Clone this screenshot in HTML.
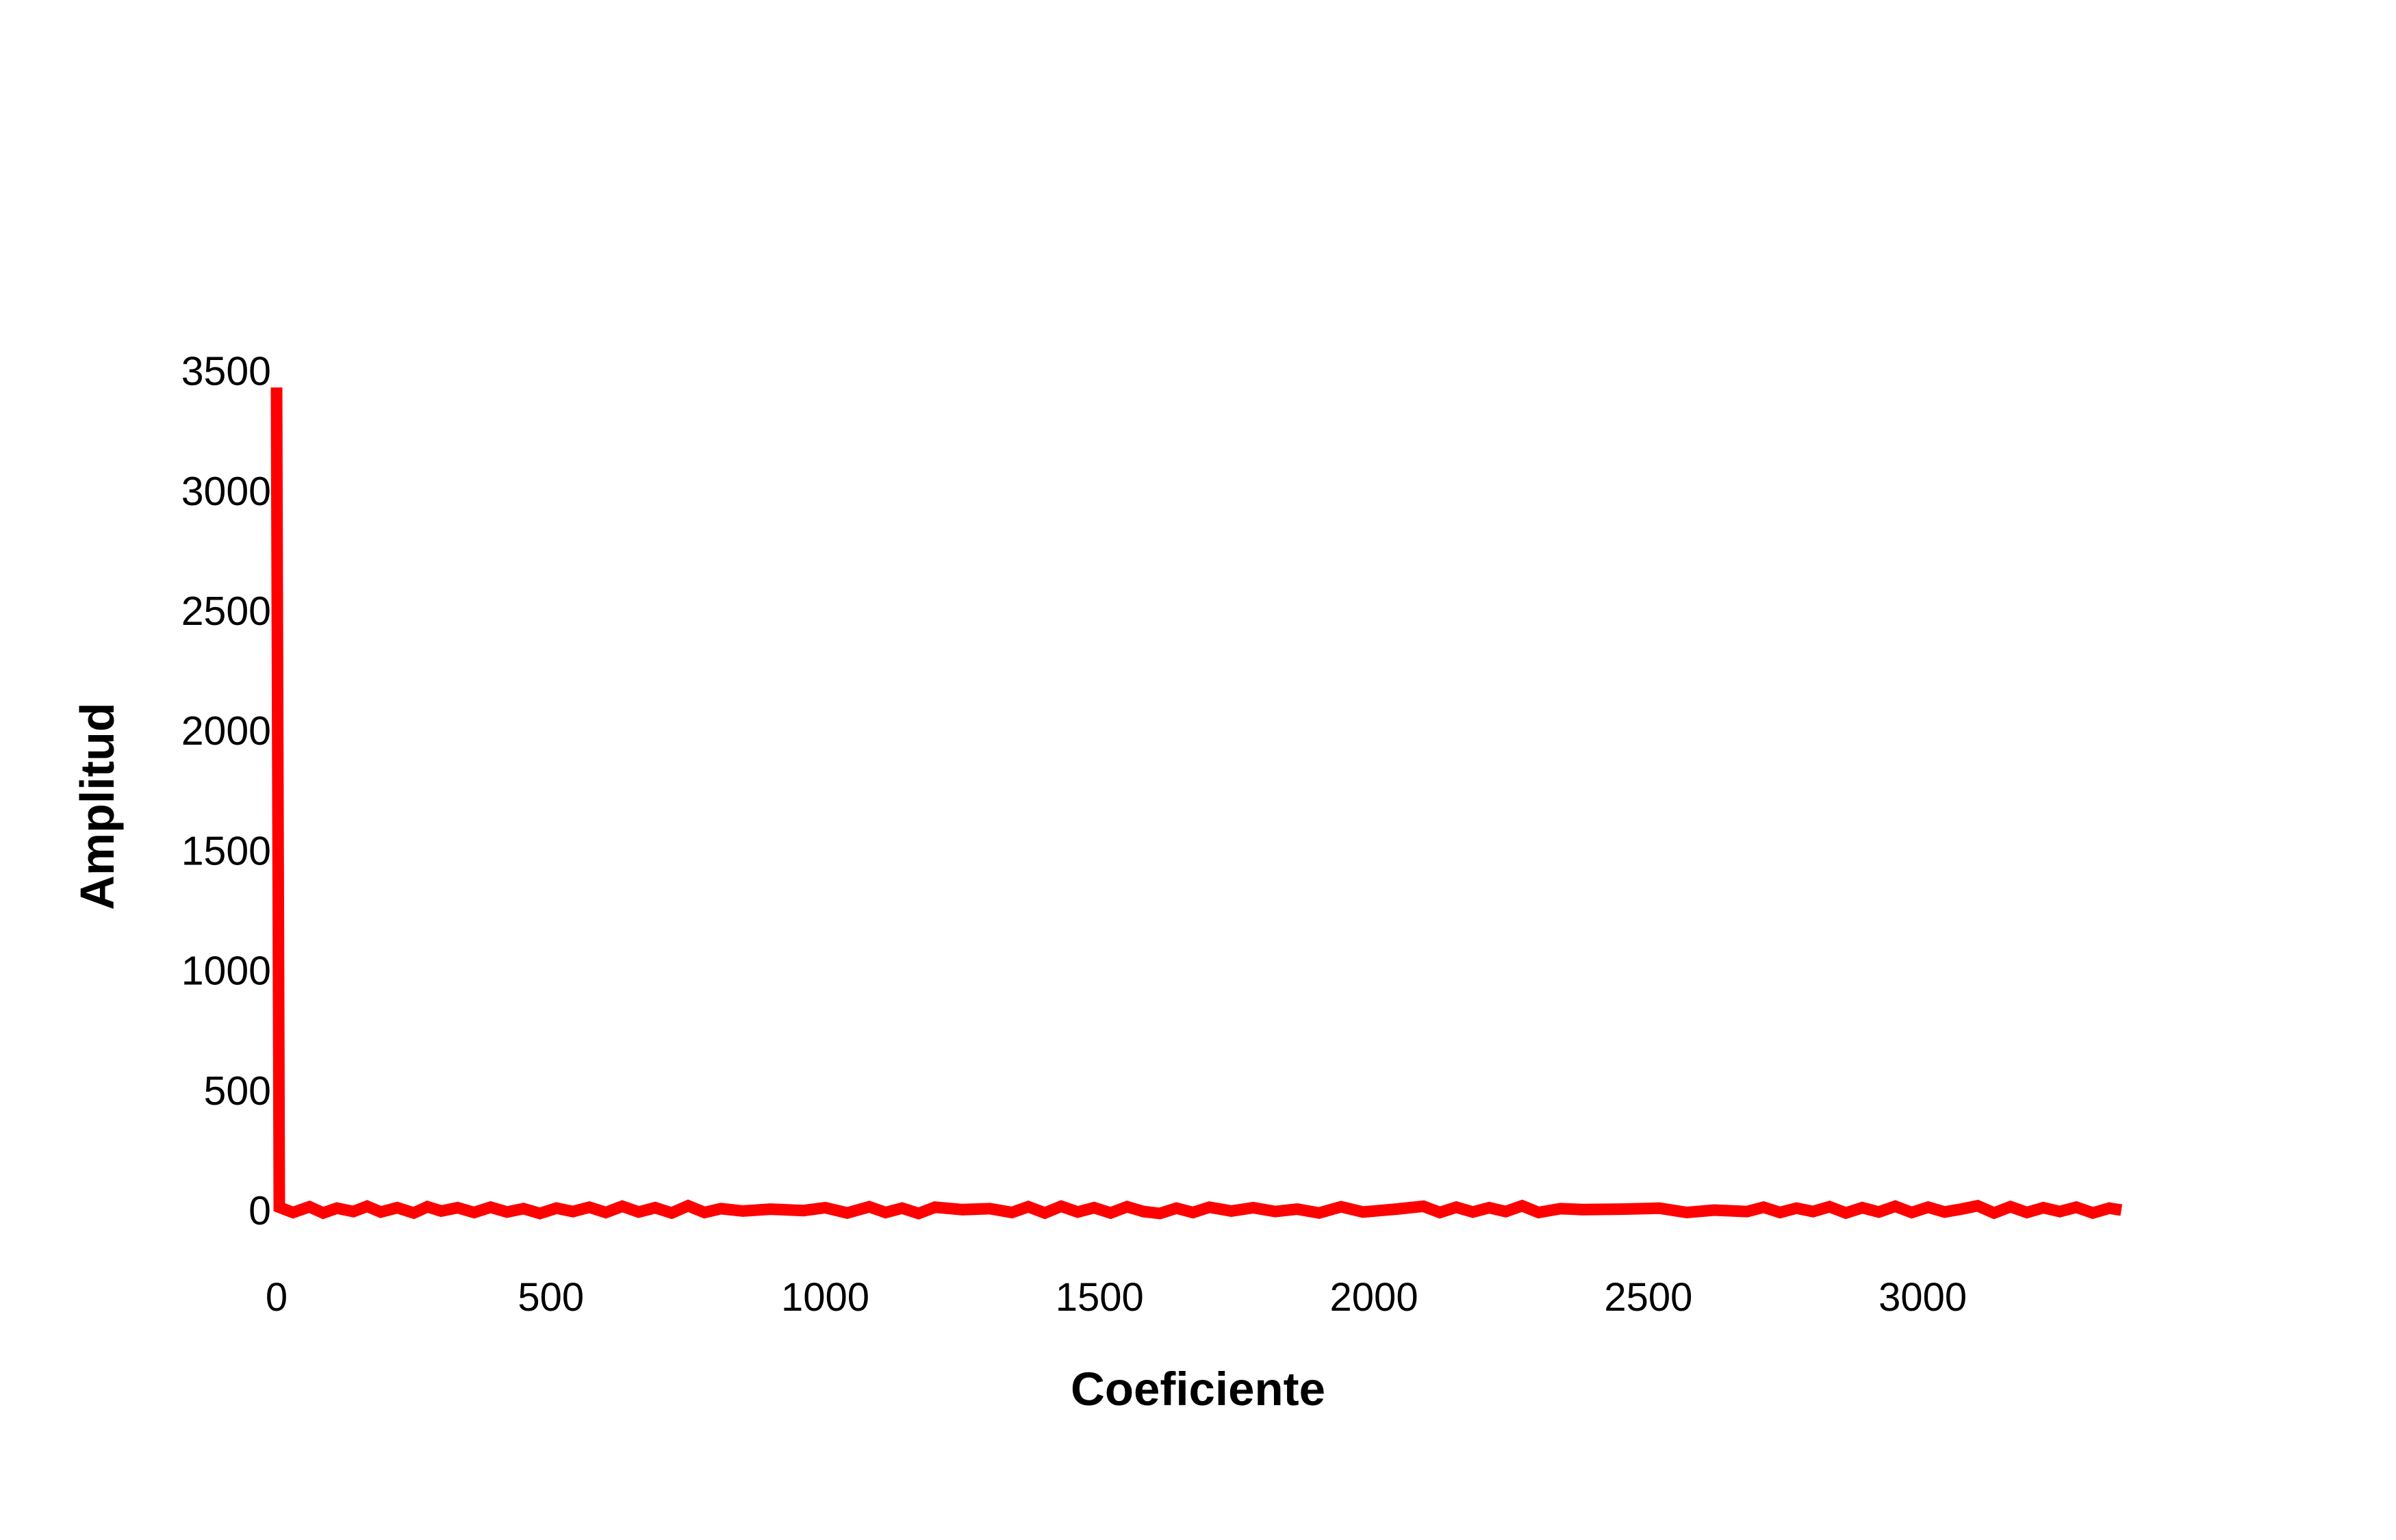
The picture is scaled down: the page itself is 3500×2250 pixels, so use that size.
<!DOCTYPE html>
<html><head><meta charset="utf-8"><style>
html,body{margin:0;padding:0;background:#fff;}
svg{display:block;}
text{font-family:"Liberation Sans",Arial,sans-serif;fill:#000;}
</style></head><body>
<svg id="chart" width="3500" height="2250" viewBox="0 0 3500 2250" xmlns="http://www.w3.org/2000/svg">
<rect width="3500" height="2250" fill="#fff"/>
<g id="yticks"></g>
<g id="xticks"></g>
<g id="series"></g>
<text x="1750" y="2053" text-anchor="middle" font-size="69" font-weight="bold">Coeficiente</text>
<text x="0" y="0" text-anchor="middle" font-size="70" font-weight="bold" transform="translate(166,1178) rotate(-90)">Amplitud</text>
</svg>
<script>
const xTicks = [0,500,1000,1500,2000,2500,3000];
const yTicks = [0,500,1000,1500,2000,2500,3000,3500];
const coefs = [0,5,30,60,85,110,140,165,190,220,250,275,300,330,360,390,420,450,480,510,540,570,600,630,660,690,720,750,780,810,850,900,960,1000,1040,1080,1110,1140,1170,1200,1250,1300,1340,1370,1400,1430,1460,1490,1520,1550,1580,1610,1640,1670,1700,1740,1780,1820,1860,1900,1940,1980,2040,2090,2120,2150,2180,2210,2240,2270,2300,2340,2380,2450,2520,2570,2620,2680,2710,2740,2770,2800,2830,2860,2890,2920,2950,2980,3010,3040,3070,3100,3130,3160,3190,3220,3250,3280,3310,3340,3362];
const amps = [3430,12,-10,14,-12,8,-6,16,-8,10,-12,14,-4,10,-10,12,-8,6,-14,8,-6,12,-10,16,-8,10,-12,18,-10,6,-4,4,-2,10,-12,14,-10,8,-14,12,2,6,-10,14,-12,16,-8,10,-12,14,-6,-14,8,-10,12,-4,10,-6,4,-12,14,-8,4,16,-10,12,-8,10,-6,18,-10,6,2,4,8,-10,0,-6,12,-10,8,-6,14,-12,10,-8,16,-10,12,-8,4,18,-12,14,-10,10,-6,12,-12,8,0];
const X0=404, XS=(403*1078/1084)/500, Y0=1768, YS=175.2/500;
const sx = v => X0 + v*XS;
const sy = v => Y0 - v*YS;
const NS="http://www.w3.org/2000/svg";
const yg=document.getElementById('yticks');
yTicks.forEach(t=>{
  const el=document.createElementNS(NS,'text');
  el.setAttribute('x',396);
  el.setAttribute('y',sy(t)+21);
  el.setAttribute('text-anchor','end');
  el.setAttribute('font-size','59');
  el.textContent=t;
  
  
  yg.appendChild(el);
});
const xg=document.getElementById('xticks');
xTicks.forEach(t=>{
  const el=document.createElementNS(NS,'text');
  el.setAttribute('x',sx(t));
  el.setAttribute('y',1915);
  el.setAttribute('text-anchor','middle');
  el.setAttribute('font-size','58');
  el.textContent=t;
  
  
  xg.appendChild(el);
});
const sg=document.getElementById('series');
let d='';
coefs.forEach((c,i)=>{ d+=(i?'L':'M')+sx(c).toFixed(1)+' '+sy(amps[i]).toFixed(1)+' '; });
const p=document.createElementNS(NS,'path');
p.setAttribute('d',d);
p.setAttribute('fill','none');
p.setAttribute('stroke','#ff0000');
p.setAttribute('stroke-width','17');
p.setAttribute('stroke-linejoin','miter');


sg.appendChild(p);
</script>
</body></html>
